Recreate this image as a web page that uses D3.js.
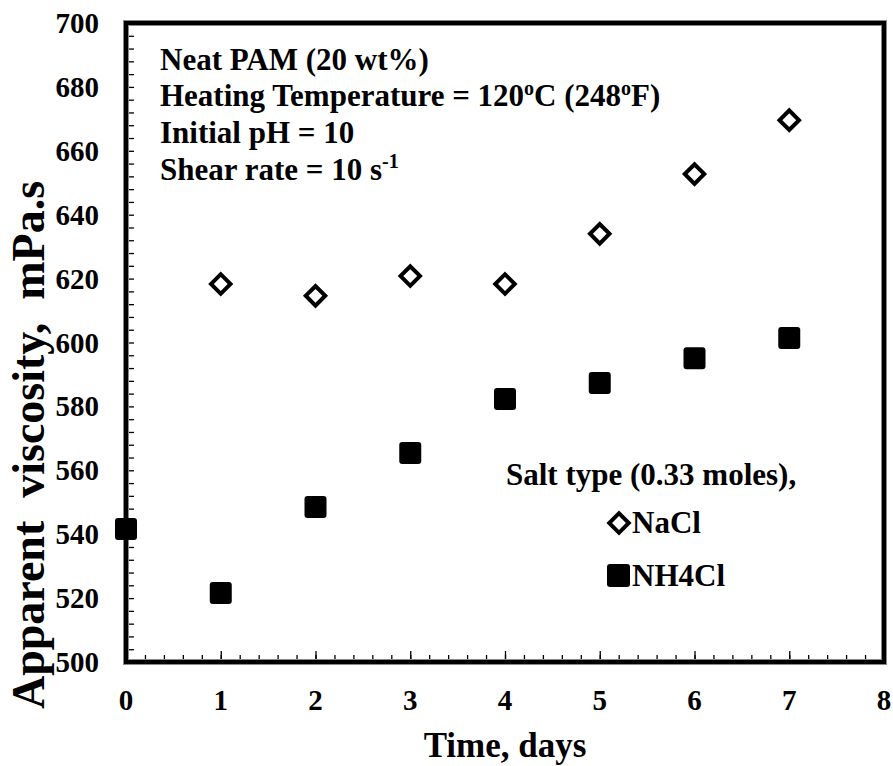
<!DOCTYPE html>
<html>
<head>
<meta charset="utf-8">
<script src="https://cdn.jsdelivr.net/npm/d3@7"></script>
<style>
  html, body { margin: 0; padding: 0; background: #fff; }
  svg { display: block; }
  text { font-family: "Liberation Serif", "Times New Roman", serif; font-weight: bold; fill: #000; }
</style>
</head>
<body>
<svg id="chart" width="893" height="766"></svg>
<script>
const naclDays = [1, 2, 3, 4, 5, 6, 7];
const naclValues = [618.3, 614.6, 620.8, 618.3, 634.0, 652.7, 669.6];
const nh4clDays = [0, 1, 2, 3, 4, 5, 6, 7];
const nh4clValues = [541.6, 521.6, 548.5, 565.4, 582.3, 587.3, 595.1, 601.4];
const xTicks = [0, 1, 2, 3, 4, 5, 6, 7, 8];
const yTicks = [500, 520, 540, 560, 580, 600, 620, 640, 660, 680, 700];
const seriesNames = ["NaCl", "NH4Cl"];
const legendTitle = "Salt type (0.33 moles),";
const xTitle = "Time, days";
const yTitle = "Apparent  viscosity,  mPa.s";

const svg = d3.select("#chart");
const L = 126, R = 884, T = 23, B = 662;
const x = d3.scaleLinear().domain([0, 8]).range([L, R]);
const y = d3.scaleLinear().domain([500, 700]).range([B, T]);

// minor ticks
const xMinor = d3.range(0, 8.0001, 0.2).map(v => +v.toFixed(2));
const yMinor = d3.range(500, 700.001, 4);

const gx = svg.append("g").attr("transform", `translate(0,${B})`)
  .call(d3.axisBottom(x).tickValues(xMinor).tickSize(-7).tickFormat(""));
gx.select(".domain").remove();
gx.selectAll("line").attr("stroke", "#000").attr("stroke-width", 1.3);
const gxM = svg.append("g").attr("transform", `translate(0,${B})`)
  .call(d3.axisBottom(x).tickValues(xTicks).tickSize(-11).tickFormat(""));
gxM.select(".domain").remove();
gxM.selectAll("line").attr("stroke", "#000").attr("stroke-width", 1.3);

const gy = svg.append("g").attr("transform", `translate(${L},0)`)
  .call(d3.axisLeft(y).tickValues(yMinor).tickSize(-8).tickFormat(""));
gy.select(".domain").remove();
gy.selectAll("line").attr("stroke", "#000").attr("stroke-width", 1.3);

// tick labels
svg.append("g").selectAll("text").data(xTicks).join("text")
  .attr("x", d => x(d)).attr("y", 710)
  .attr("text-anchor", "middle").style("font-size", "29px").text(d => d);
svg.append("g").selectAll("text").data(yTicks).join("text")
  .attr("x", 99).attr("y", d => y(d) + 10)
  .attr("text-anchor", "end").style("font-size", "29px").text(d => d);

// frame
svg.append("rect").attr("x", L).attr("y", T).attr("width", R - L).attr("height", B - T)
  .attr("fill", "none").attr("stroke", "#888").attr("stroke-width", 6);
svg.append("rect").attr("x", L).attr("y", T).attr("width", R - L).attr("height", B - T)
  .attr("fill", "none").attr("stroke", "#000").attr("stroke-width", 4);

// axis titles
svg.append("text").attr("x", (L + R) / 2).attr("y", 757).attr("text-anchor", "middle")
  .style("font-size", "35px").text(xTitle);
svg.append("text").attr("transform", `translate(44,445) rotate(-90)`)
  .attr("text-anchor", "middle").style("font-size", "46px")
  .attr("xml:space", "preserve").text(yTitle);

// markers
const diamond = d3.symbol().type(d3.symbolSquare).size(190);
svg.append("g").selectAll("path").data(naclDays.map((d, i) => [d, naclValues[i]])).join("path")
  .attr("d", diamond)
  .attr("transform", d => `translate(${x(d[0])},${y(d[1])}) rotate(45)`)
  .attr("fill", "#fff").attr("stroke", "#000").attr("stroke-width", 4);

svg.append("g").selectAll("rect").data(nh4clDays.map((d, i) => [d, nh4clValues[i]])).join("rect")
  .attr("x", d => x(d[0]) - 11).attr("y", d => y(d[1]) - 11)
  .attr("width", 22).attr("height", 22).attr("rx", 3)
  .attr("fill", "#000");

// annotation
const ann = svg.append("g").style("font-size", "31px");
ann.append("text").attr("x", 160).attr("y", 70).text("Neat PAM (20 wt%)");
const h = ann.append("text").attr("x", 160).attr("y", 106);
h.append("tspan").text("Heating Temperature = 120");
h.append("tspan").attr("dy", -11).style("font-size", "20px").text("o");
h.append("tspan").attr("dy", 11).text("C (248");
h.append("tspan").attr("dy", -11).style("font-size", "20px").text("o");
h.append("tspan").attr("dy", 11).text("F)");
ann.append("text").attr("x", 160).attr("y", 143).text("Initial pH = 10");
const s = ann.append("text").attr("x", 160).attr("y", 180);
s.append("tspan").text("Shear rate = 10 s");
s.append("tspan").attr("dy", -12).style("font-size", "20px").text("-1");

// legend
const lg = svg.append("g").style("font-size", "31px");
lg.append("text").attr("x", 506).attr("y", 485).text(legendTitle);
lg.append("path").attr("d", diamond)
  .attr("transform", `translate(619,523) rotate(45)`)
  .attr("fill", "#fff").attr("stroke", "#000").attr("stroke-width", 4);
lg.append("text").attr("x", 632).attr("y", 533).text(seriesNames[0]);
lg.append("rect").attr("x", 607).attr("y", 564).attr("width", 23).attr("height", 23).attr("rx", 3).attr("fill", "#000");
lg.append("text").attr("x", 632).attr("y", 586).text(seriesNames[1]);
</script>
</body>
</html>
